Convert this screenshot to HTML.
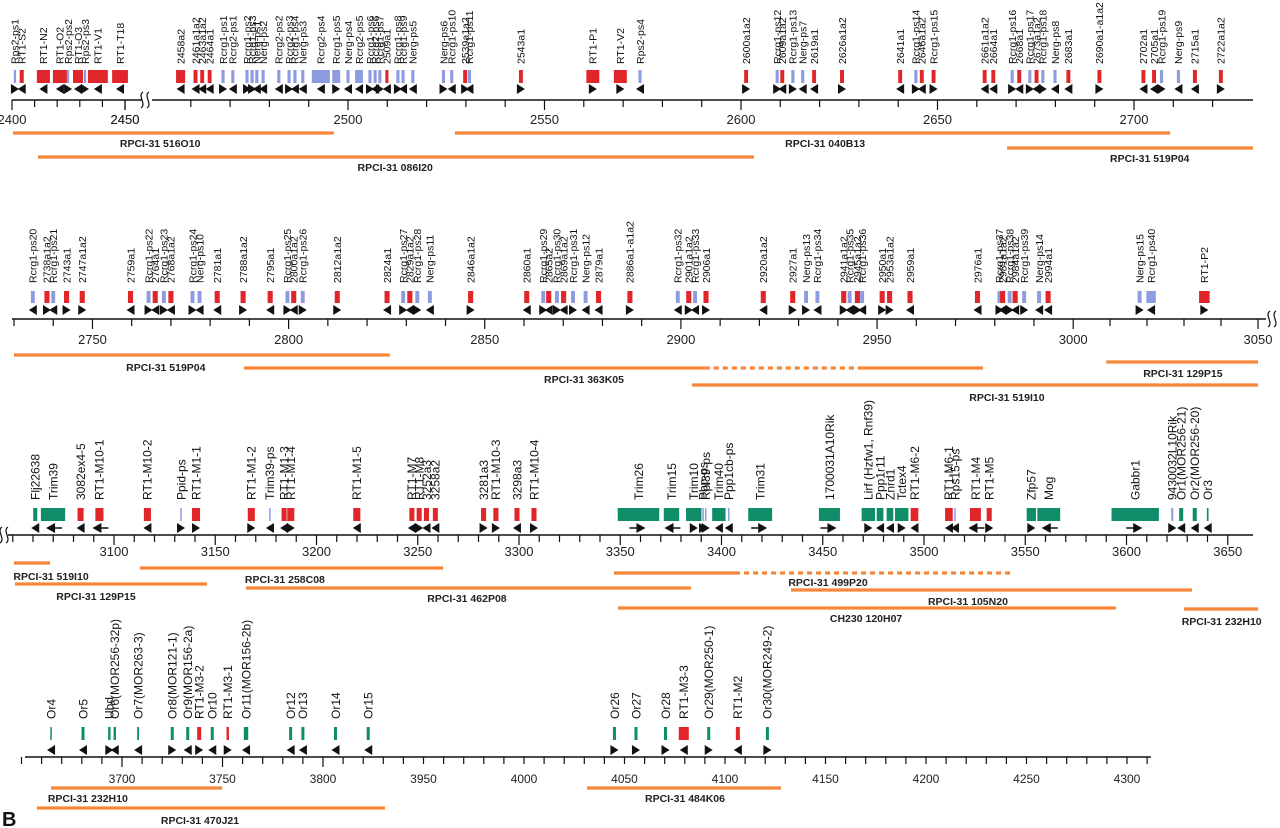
<!DOCTYPE html>
<html><head><meta charset="utf-8">
<style>
html,body{margin:0;padding:0;background:#fff;}
svg{display:block;font-family:"Liberation Sans",Arial,sans-serif;}
</style></head>
<body>
<svg id="map" width="1280" height="828" viewBox="0 0 1280 828" xmlns="http://www.w3.org/2000/svg"></svg>
<script>
// ---- data: genes [label, position kb, colour, direction, length kb]
const row1Genes=[
['Rps2-ps1',2401.3,'b',1,1],['RT1-S2',2404.3,'r',-1,1.8],['RT1-N2',2413.9,'r',-1,5.8],['RT1-O2',2421.2,'r',-1,6.2],['Rps2-ps2',2424.8,'b',1,1],['RT1-O3',2429.2,'r',-1,4.4],['Rps2-ps3',2432.3,'b',1,1],['RT1-V1',2438,'r',-1,8.8],['RT1-T18',2447.8,'r',-1,7],
['2458a2',2457.4,'r',-1,2.3],['2461a1a2',2461.2,'r',-1,1],['2463a1a2',2462.9,'r',-1,1],['2464a1',2464.8,'r',-1,1],['Rcrg1-ps1',2468.2,'b',1,0.8],['Rcrg2-ps1',2470.7,'b',-1,0.8],['Rcrg1-ps2',2474.3,'b',1,0.8],['Rcrg1-ps3',2475.6,'b',1,0.8],['Nerg-ps1',2476.8,'b',-1,0.8],['Nerg-ps2',2478.4,'b',-1,0.8],['Rcrg2-ps2',2482.4,'b',-1,0.8],['Rcrg2-ps3',2485,'b',1,0.8],['Rcrg1-ps4',2486.5,'b',-1,0.8],['Nerg-ps3',2488.5,'b',-1,0.8],['Rcrg2-ps4',2493.1,'b',-1,4.6],['Rcrg1-ps5',2497,'b',1,2],['Nerg-ps4',2500,'b',-1,0.8],['Rcrg2-ps5',2502.8,'b',-1,2],['Rcrg1-ps6',2505.6,'b',1,0.8],['Rcrg2-ps6',2506.9,'b',-1,0.8],['Rcrg1-ps7',2508.1,'b',1,0.8],['2509a1',2509.9,'r',-1,0.8],['Rcrg1-ps8',2512.7,'b',1,0.8],['Rcrg1-ps9',2514,'b',-1,0.8],['Nerg-ps5',2516.5,'b',-1,0.8],
['Nerg-ps6',2524.3,'b',1,0.8],['Rcrg1-ps10',2526.4,'b',-1,0.8],['2539a1a2',2529.8,'r',1,1],['Rcrg1-ps11',2530.9,'b',-1,0.8],['2543a1',2544,'r',1,1],['RT1-P1',2562.3,'r',1,3.3],['RT1-V2',2569.3,'r',1,3.3],['Rps2-ps4',2574.3,'b',-1,0.8],['2600a1a2',2601.3,'r',1,1],['Rcrg1-ps12',2609.2,'b',1,0.8],['2609a1a2',2610.5,'r',-1,1],['Rcrg1-ps13',2613.2,'b',1,0.8],['Nerg-ps7',2615.7,'b',-1,0.8],['2619a1',2618.6,'r',-1,1],['2626a1a2',2625.7,'r',1,1],
['2641a1',2640.5,'r',-1,1],['Rcrg1-ps14',2644.5,'b',1,0.8],['2646a1a2',2646,'r',-1,1],['Rcrg1-ps15',2649,'r',1,1],['2661a1a2',2662,'r',-1,1],['2664a1',2664.2,'r',-1,1],['Rcrg1-ps16',2669,'b',1,0.8],['2668a1',2670.8,'r',-1,1],['Rcrg1-ps17',2673.5,'b',1,0.8],['2673a1a2',2675.2,'r',-1,1],['Rcrg1-ps18',2676.8,'b',1,0.8],['Nerg-ps8',2679.9,'b',-1,0.8],['2683a1',2683.3,'r',-1,1],['2690a1-a1a2',2691.2,'r',1,1],['2702a1',2702.4,'r',-1,1],['2705a1',2705.1,'r',-1,1],['Rcrg1-ps19',2707,'b',1,0.8],['Nerg-ps9',2711.3,'b',-1,0.8],['2715a1',2715.5,'r',-1,1],['2722a1a2',2722.1,'r',1,1]
];
const row2Genes=[
['Rcrg1-ps20',2734.8,'b',-1,1],['2738a1a2',2738.4,'r',1,1.3],['Rcrg1-ps21',2740,'b',-1,1],['2743a1',2743.4,'r',1,1.3],['2747a1a2',2747.4,'r',1,1.3],['2759a1',2759.7,'r',-1,1.3],['Rcrg1-ps22',2764.3,'b',1,1],['2764a1',2766,'r',-1,1.3],['Rcrg1-ps23',2768.2,'b',1,1],['2768a1a2',2770,'r',-1,1.3],['Rcrg1-ps24',2775.5,'b',1,1],['Nerg-ps10',2777.3,'b',-1,1],['2781a1',2781.8,'r',-1,1.3],['2788a1a2',2788.4,'r',1,1.3],['2795a1',2795.3,'r',-1,1.3],['Rcrg1-ps25',2799.7,'b',1,1],['2800a1a2',2801.3,'r',-1,1.3],['Rcrg1-ps26',2803.6,'b',1,1],['2812a1a2',2812.4,'r',1,1.3],['2824a1',2825.1,'r',-1,1.3],['Rcrg1-ps27',2829.2,'b',1,1],['2829a1a2',2830.9,'r',-1,1.3],['Rcrg1-ps28',2832.8,'b',1,1],['Nerg-ps11',2836,'b',-1,1],['2846a1a2',2846.4,'r',1,1.3],['2860a1',2860.7,'r',-1,1.3],['Rcrg1-ps29',2864.9,'b',1,1],['2865a2',2866.3,'r',-1,1.3],['Rcrg1-ps30',2868.4,'b',1,1],['2869a1a2',2870.1,'r',-1,1.3],['Rcrg1-ps31',2872.5,'b',1,1],['Nerg-ps12',2875.7,'b',-1,1],['2879a1',2879,'r',-1,1.3],['2886a1-a1a2',2887,'r',1,1.3],
['Rcrg1-ps32',2899.2,'b',-1,1],['2901a1a2',2902,'r',1,1.3],['Rcrg1-ps33',2903.6,'b',-1,1],['2906a1',2906.4,'r',1,1.3],['2920a1a2',2921,'r',-1,1.3],['2927a1',2928.5,'r',1,1.3],['Nerg-ps13',2931.9,'b',1,1],['Rcrg1-ps34',2934.8,'b',-1,1],['2941a1a2',2941.5,'r',1,1.3],['Rcrg1-ps35',2943,'b',-1,1],['2945a1a2',2945,'r',1,1.3],['Rcrg1-ps36',2946.2,'b',-1,1],['2950a1',2951.3,'r',1,1.3],['2953a1a2',2953.2,'r',1,1.3],['2959a1',2958.4,'r',-1,1.3],['2976a1',2975.6,'r',-1,1.3],['Rcrg1-ps37',2981.2,'b',1,1],['2981a1a2',2982,'r',-1,1.3],['Rcrg1-ps38',2983.8,'b',1,1],['2984a1a2',2985.2,'r',-1,1.3],['Rcrg1-ps39',2987.5,'b',1,1],['Nerg-ps14',2991.3,'b',-1,1],['2994a1',2993.6,'r',-1,1.3],['Nerg-ps15',3018,'b',1,1],['Rcrg1-ps40',3021.1,'b',-1,2.4],['RT1-P2',3035.5,'r',1,2.7]
];
const row3Genes=[
['Flj22638',3061.1,'g',-1,2],['Trim39',3069.9,'g',-2,12],['3082ex4-5',3083.5,'r',-1,3],['RT1-M10-1',3092.8,'r',-2,4],['RT1-M10-2',3116.5,'r',-1,3.5],['Ppid-ps',3133.1,'b',1,0.7],['RT1-M1-1',3140.5,'r',1,4],['RT1-M1-2',3167.8,'r',1,3.5],['Trim39-ps',3177,'b',-1,0.7],['RT1-M1-3',3184,'r',-1,2.5],['RT1-M1-4',3187.3,'r',1,3.5],['RT1-M1-5',3219.9,'r',-1,3.5],['RT1-M7',3247.1,'r',-1,2.5],['RT1-M8',3250.7,'r',1,2.5],['3252a3',3254.3,'r',-1,2.5],['3258a2',3258.7,'r',-1,2.5],['3281a3',3282.5,'r',1,2.5],['RT1-M10-3',3288.6,'r',1,2.5],['3298a3',3299,'r',-1,2.5],['RT1-M10-4',3307.4,'r',1,2.5],
['Trim26',3359,'g',2,20.5],['Trim15',3375.3,'g',-2,7.6],['Trim10',3386.3,'g',1,7.6],['Pbp-ps',3390.9,'b',1,0.7],['Rpl39-ps',3392.2,'b',1,0.7],['Trim40',3398.7,'g',-1,6.6],['Ppp1cb-ps',3403.6,'b',-1,0.7],['Trim31',3419.1,'g',2,11.8],['1700031A10Rik',3453.3,'g',2,10.4],['Lirf (Hzfw1, Rnf39)',3472.5,'g',1,6.6],['Ppp1r11',3478.3,'g',-1,3.3],['Znrd1',3483.2,'g',-1,3.3],['Tctex4',3489,'g',1,6.6],['RT1-M6-2',3495.3,'r',-1,3.8],['RT1-M6-1',3512.3,'r',-1,3.8],['Rps15-ps',3515.3,'b',-1,0.7],['RT1-M4',3525.4,'r',-2,5.4],['RT1-M5',3532.2,'r',1,2.5],['Zfp57',3553,'g',1,4.6],['Mog',3561.6,'g',-2,11.3],['Gabbr1',3604.3,'g',2,23.4],['9430032L10Rik',3622.6,'b',1,1],['Or1(MOR256-21)',3627,'g',-1,2],['Or2(MOR256-20)',3633.7,'g',-1,2],['Or3',3640.1,'g',-1,0.8]
];
const row4Genes=[
['Or4',3664.7,'g',-1,0.5],['Or5',3680.6,'g',-1,1.5],['Ubd',3693.7,'g',1,1.2],['Or6(MOR256-32p)',3696.4,'g',-1,1.2],['Or7(MOR263-3)',3708,'g',-1,0.9],['Or8(MOR121-1)',3725,'g',1,1.5],['Or9(MOR156-2a)',3732.7,'g',-1,1.5],['RT1-M3-2',3738.4,'r',1,2],['Or10',3744.9,'g',-1,1.5],['RT1-M3-1',3752.6,'r',1,1.2],['Or11(MOR156-2b)',3761.7,'g',-1,2.2],['Or12',3783.9,'g',-1,1.5],['Or13',3790,'g',-1,1.5],['Or14',3806.2,'g',-1,1.5],['Or15',3822.5,'g',-1,1.5],
['Or26',4045,'g',1,1.5],['Or27',4055.7,'g',1,1.5],['Or28',4070.4,'g',1,1.5],['RT1-M3-3',4079.5,'r',-1,5],['Or29(MOR250-1)',4091.9,'g',1,1.5],['RT1-M2',4106.4,'r',-1,2],['Or30(MOR249-2)',4121.1,'g',1,1.5]
];
// ---- tick labels (kb)
const row1TicksA=[2400,2450];
const row1TicksB=[2450,2500,2550,2600,2650,2700];
const row2Ticks=[2750,2800,2850,2900,2950,3000,3050];
const row3Ticks=[3100,3150,3200,3250,3300,3350,3400,3450,3500,3550,3600,3650];
const row4Ticks=[3700,3750,3800,3950,4000,4050,4100,4150,4200,4250,4300];
// ---- BAC clones [label, start kb, end kb, label kb, dotted-from kb, dotted-to kb]
const row1Bacs=[['RPCI-31 516O10',2400.4,2496.4,2452.2],['RPCI-31 086I20',2411.5,2603.3,2512],['RPCI-31 040B13',2527.2,2709.2,2621.4],['RPCI-31 519P04',2667.7,2730.3,2704]];
const row2Bacs=[['RPCI-31 519P04',2730,2825.8,2768.7],['RPCI-31 363K05',2788.6,2977,2875.3,2906.1,2946.2],['RPCI-31 519I10',2902.8,3050,2983.1],['RPCI-31 129P15',3009,3050,3029.7]];
const row3Bacs=[['RPCI-31 519I10',3050.6,3068.4,3068.9],['RPCI-31 129P15',3051.1,3145.9,3091.1],['RPCI-31 258C08',3112.8,3262.5,3184.4],['RPCI-31 462P08',3165.2,3384.9,3274.3],['RPCI-31 499P20',3346.9,3542.5,3452.6,3406.7,3542.5],['RPCI-31 105N20',3434.3,3632.3,3521.7],['CH230 120H07',3348.9,3594.8,3471.4],['RPCI-31 232H10',3628.4,3665,3647]];
const row4Bacs=[['RPCI-31 232H10',3664.7,3749.8,3683],['RPCI-31 470J21',3657.7,3830.8,3738.8],['RPCI-31 484K06',4031.3,4127.9,4080.1]];

// ---- scales / layout
const s1=k=>k<=2450.5?12+(k-2400)*2.26:348+(k-2500)*3.93;
const s1A=k=>12+(k-2400)*2.26;
const s2=k=>k<=3000?14+(k-2730)*3.923:1073+(k-3000)*3.7;
const s3=k=>114+(k-3100)*2.025;
const s4=k=>k<3900?122+(k-3700)*2.01:524+(k-4000)*2.01;
const COL={r:'#e1262b',b:'#8d9be0',g:'#0e8d68'};
const NS='http://www.w3.org/2000/svg';
const svg=document.getElementById('map');
function mk(tag,attrs,parent){const e=document.createElementNS(NS,tag);for(const k in attrs)e.setAttribute(k,attrs[k]);(parent||svg).appendChild(e);return e;}

function drawGenes(genes,sc,L,rowName){
  const g=mk('g',{});
  
  
  genes.forEach(d=>{
    const [name,pos,c,dir,len]=d;
    const cx=sc(pos);const w=Math.max(1.5,len*L.ppk);
    const box=mk('rect',{x:cx-w/2,y:L.boxTop,width:w,height:L.boxH,fill:COL[c]},g);
    
    
    const t=mk('text',{x:0,y:0,transform:`translate(${cx+L.fs*0.36},${L.labBot}) rotate(-90)`,'font-size':L.fs,fill:'#111'},g);
    t.textContent=name;
    
    
    const ay=L.arrowY,h=5,aw=8;let p;
    if(Math.abs(dir)===1){
      p=dir>0?`${cx-aw/2},${ay-h} ${cx+aw/2},${ay} ${cx-aw/2},${ay+h}`:`${cx+aw/2},${ay-h} ${cx-aw/2},${ay} ${cx+aw/2},${ay+h}`;
      const a=mk('polygon',{points:p,fill:'#111'},g);
      
      
    }else{
      const s=dir>0?1:-1;
      mk('line',{x1:cx-9*s,y1:ay,x2:cx,y2:ay,stroke:'#111','stroke-width':1.5},g);
      const a=mk('polygon',{points:`${cx-2*s},${ay-5} ${cx+7*s},${ay} ${cx-2*s},${ay+5}`,fill:'#111'},g);
      
      
    }
  });
}
function drawAxis(y,x1,x2,name){
  const l=mk('line',{x1:x1,y1:y,x2:x2,y2:y,stroke:'#111','stroke-width':1.6});
  
  
}
function drawTicks(sc,from,to,step,labels,y,labY,fs){
  for(let k=from;k<=to+0.001;k+=step){
    const x=sc(k);const major=labels.includes(k);
    mk('line',{x1:x,y1:y,x2:x,y2:y+(major?10:7),stroke:'#111','stroke-width':1.2});
  }
  labels.forEach(k=>{
    const t=mk('text',{x:sc(k),y:labY,'font-size':fs,'text-anchor':'middle',fill:'#222'});
    t.textContent=k;
    
    
  });
}
function drawBacs(bacs,sc,ys,labYs){
  bacs.forEach((b,i)=>{
    const [lab,a,e,lk,d1,d2]=b;const y=ys[i];
    const g=mk('g',{});
    
    
    if(d1!==undefined){
      mk('line',{x1:sc(a),y1:y,x2:sc(d1),y2:y,stroke:'#f7883a','stroke-width':3.2},g);
      mk('line',{x1:sc(d1),y1:y,x2:sc(d2),y2:y,stroke:'#f7883a','stroke-width':3.2,'stroke-dasharray':'5,4'},g);
      if(d2<e)mk('line',{x1:sc(d2),y1:y,x2:sc(e),y2:y,stroke:'#f7883a','stroke-width':3.2},g);
    }else mk('line',{x1:sc(a),y1:y,x2:sc(e),y2:y,stroke:'#f7883a','stroke-width':3.2},g);
    const t=mk('text',{x:sc(lk),y:labYs[i],'font-size':10.5,'font-weight':'bold','text-anchor':'middle',fill:'#222'},g);
    t.textContent=lab;
  });
}
function squiggle(x,y,name){
  const p=mk('path',{d:`M${x-4},${y+8} c6,-4 -4,-12 2,-16 M${x+2},${y+8} c6,-4 -4,-12 2,-16`,fill:'none',stroke:'#111','stroke-width':1.2});
  
  
}

// Row 1
const L1={boxTop:70,boxH:13,arrowY:89,labBot:64,fs:10.5,ppk:3.93};
drawGenes(row1Genes.filter(d=>d[1]<2450.5),s1A,Object.assign({},L1,{ppk:2.26}),'row1a');
drawGenes(row1Genes.filter(d=>d[1]>=2450.5),s1,L1,'row1b');
drawAxis(100,12,142,'axis-row1-a');drawAxis(100,152,1253,'axis-row1-b');
squiggle(145,100,'axis-break-row1');
drawTicks(s1A,2400,2450,10,row1TicksA,100,124,13);
drawTicks(s1,2450,2720,10,row1TicksB,100,124,13);
drawBacs(row1Bacs,s1,[133,157,133,148],[147,171,147,162]);

// Row 2
const L2={boxTop:291,boxH:12,arrowY:310,labBot:283,fs:10.5,ppk:3.93};
drawGenes(row2Genes,s2,L2,'row2');
drawAxis(319,12,1266,'axis-row2');
squiggle(1272,319,'axis-break-row2');
drawTicks(s2,2730,3050,10,row2Ticks,319,344,13);
drawBacs(row2Bacs,s2,[355,368,385,362],[371,383,401,377]);

// Row 3
const L3={boxTop:508,boxH:13,arrowY:528,labBot:500,fs:12,ppk:2.025};
drawGenes(row3Genes,s3,L3,'row3');
drawAxis(535,8,1253,'axis-row3');
squiggle(4,535,'axis-break-row3');
drawTicks(s3,3050,3650,10,row3Ticks,535,556,13);
drawBacs(row3Bacs,s3,[563,584,568,588,573,590,608,609],[580,600,583,602,586,605,622,625]);

// Row 4
const L4={boxTop:727,boxH:13,arrowY:750,labBot:719,fs:12,ppk:2.01};
drawGenes(row4Genes,s4,L4,'row4');
drawAxis(757,25,1151,'axis-row4');
drawTicks(s4,3650,3830,10,row4Ticks,757,783,12);
drawTicks(s4,3940,4310,10,[],757,783,12);
drawBacs(row4Bacs,s4,[788,808,788],[802,824,802]);

const B=mk('text',{x:2,y:826,'font-size':20,'font-weight':'bold',fill:'#111'});
B.textContent='B';


</script>
</body></html>
